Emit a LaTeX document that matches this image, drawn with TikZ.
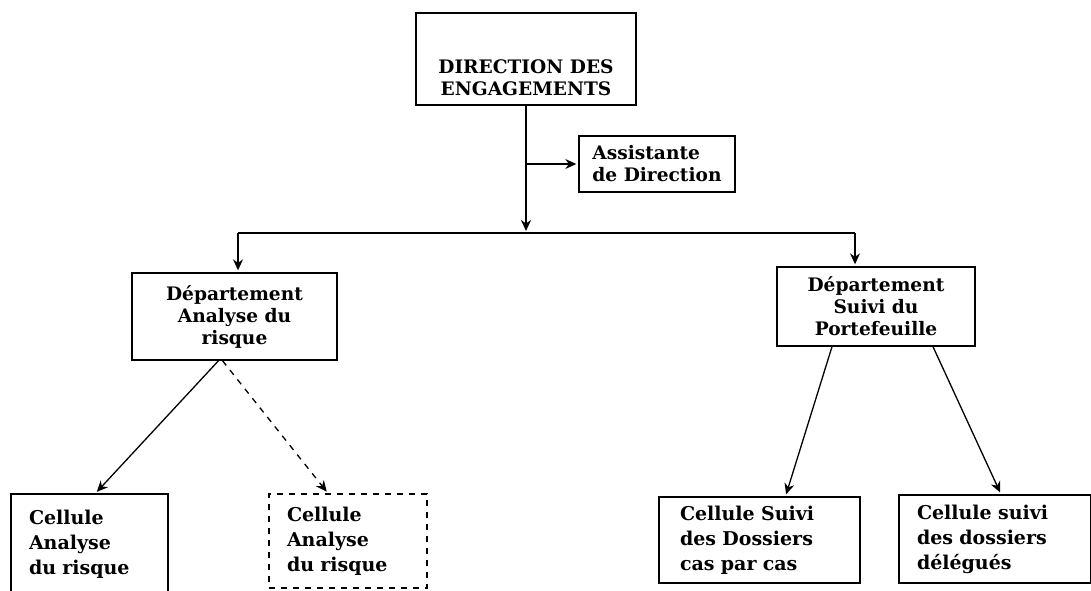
\documentclass[tikz,border=0pt]{standalone}
\usepackage{fontspec}
\setmainfont{DejaVu Serif}
\usetikzlibrary{arrows.meta,calc}

\begin{document}
\begin{tikzpicture}[x=0.5pt,y=-0.5pt,
  box/.style={draw, line width=0.7pt, inner sep=0pt, font=\fontsize{9.3}{11}\selectfont\bfseries},
  cellbox/.style={box, align=left, inner xsep=9pt, font=\fontsize{9.5}{12.5}\selectfont\bfseries},
  arr/.style={-{Stealth[length=5.5pt,width=5pt]}, line width=0.65pt, shorten >=1pt}]

\clip (0,0) rectangle (1091,590);

\node[box, minimum width=110pt, minimum height=46pt, align=center] (dir) at (526,59) {\mbox{}\\[15pt]DIRECTION DES\\ENGAGEMENTS};
\node[box, minimum width=78pt, minimum height=28pt, align=left] (assist) at (657,164) {Assistante\\de Direction};

\node[box, minimum width=102.5pt, minimum height=43.5pt, align=center] (dept1) at (234.5,316.5) {Département\\Analyse du\\risque};
\node[box, minimum width=99pt, minimum height=39.5pt, align=center] (dept2) at (876,306.5) {Département\\Suivi du\\Portefeuille};

\node[cellbox, text width=60.5pt, minimum height=50pt] (cell1) at (89.5,544) {Cellule\\Analyse\\du risque};
\node[cellbox, dashed, text width=61pt, minimum height=47pt] (cell2) at (348,541) {Cellule\\Analyse\\du risque};
\node[cellbox, inner xsep=10.5pt, text width=79.5pt, minimum height=43pt] (cell3) at (759.5,540) {Cellule Suivi\\des Dossiers\\cas par cas};
\node[cellbox, text width=78pt, minimum height=44pt] (cell4) at (995,539) {Cellule suivi\\des dossiers\\délégués};

\coordinate (bus) at (526,233);
\coordinate (busL) at (238,233);
\coordinate (busR) at (855,233);

\draw[arr, line width=1.2pt] (dir.south) -- (bus);
\draw[arr] (dir.south |- assist.west) -- (assist.west);
\draw[line width=1.2pt] (busL) -- (busR);
\draw[arr] (busL) -- (busL |- dept1.north);
\draw[arr] (busR) -- (busR |- dept2.north);

\draw[arr] ($(dept1.south)+(-16,0)$) -- ($(cell1.north)+(6,0)$);
\draw[arr, dashed] ($(dept1.south)+(-12,0)$) -- ($(cell2.north)+(-20,0)$);
\draw[arr] ($(dept2.south)+(-44,0)$) -- ($(cell3.north)+(26,0)$);
\draw[arr] ($(dept2.south)+(57,0)$) -- ($(cell4.north)+(6,0)$);

\end{tikzpicture}
\end{document}
